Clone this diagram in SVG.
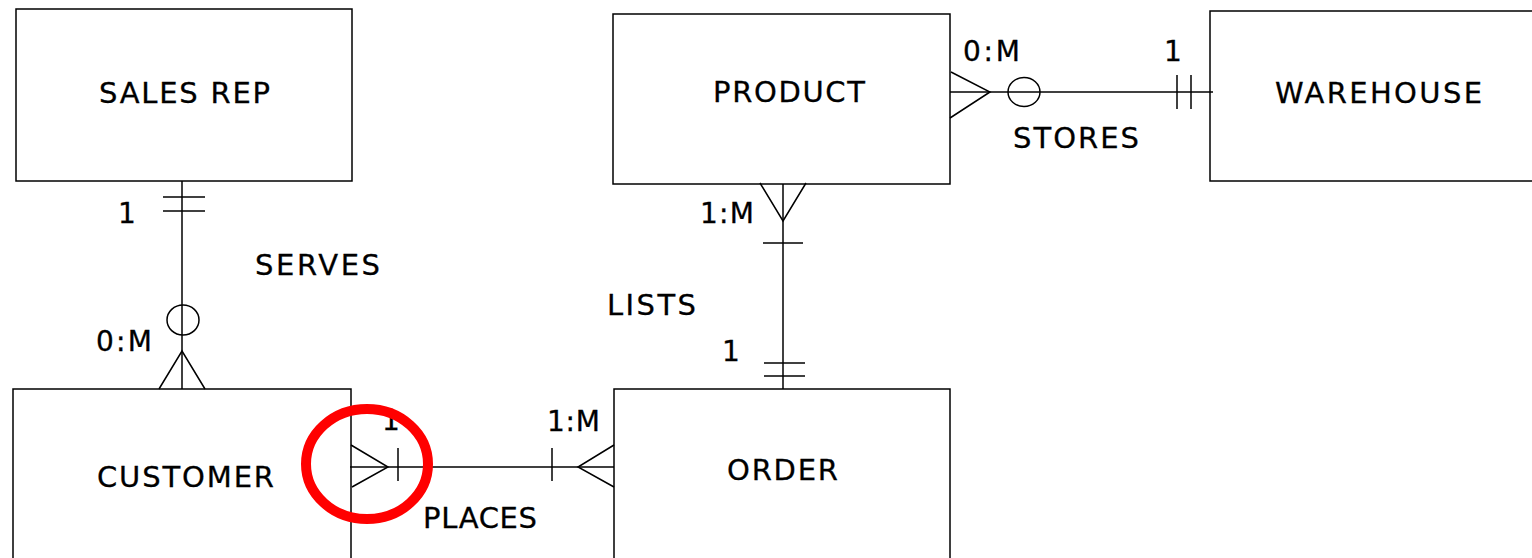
<svg xmlns="http://www.w3.org/2000/svg" width="1532" height="558" viewBox="0 0 1532 558">
<style>
.box{fill:#fff;stroke:#000;stroke-width:1.5}
.ln{fill:none;stroke:#000;stroke-width:1.5}
.t{font-family:"DejaVu Sans",Verdana,sans-serif;font-size:29px;fill:#000;stroke:#000;stroke-width:0.3}
.l{font-family:"DejaVu Sans",Verdana,sans-serif;font-size:28px;fill:#000;stroke:#000;stroke-width:0.3}
</style>
<rect width="1532" height="558" fill="#fff"/>
<g id="sales-rep"><rect class="box" x="16" y="9" width="336" height="172"/><text class="t" x="99" y="103" textLength="171" lengthAdjust="spacing">SALES REP</text></g>
<g id="product"><rect class="box" x="613" y="14" width="337" height="170"/><text class="t" x="713" y="102" textLength="152" lengthAdjust="spacing">PRODUCT</text></g>
<g id="warehouse"><rect class="box" x="1210" y="11" width="340" height="170"/><text class="t" x="1275" y="103" textLength="207" lengthAdjust="spacing">WAREHOUSE</text></g>
<g id="customer"><rect class="box" x="13" y="389" width="338" height="190"/><text class="t" x="97" y="487" textLength="177" lengthAdjust="spacing">CUSTOMER</text></g>
<g id="order"><rect class="box" x="614" y="389" width="336" height="190"/><text class="t" x="727" y="480" textLength="111" lengthAdjust="spacing">ORDER</text></g>
<g id="connectors">
<g id="serves">
<line class="ln" x1="182" y1="181" x2="182" y2="389"/>
<line class="ln" x1="163" y1="197" x2="205" y2="197"/>
<line class="ln" x1="163" y1="211" x2="205" y2="211"/>
<ellipse class="ln" cx="183" cy="320" rx="16" ry="15"/>
<polyline class="ln" points="159,389 182,351 205,389"/>
<text class="l" x="118" y="223">1</text>
<text class="l" x="96" y="351" textLength="56" lengthAdjust="spacing">0:M</text>
<text class="t" x="255" y="275" textLength="125" lengthAdjust="spacing">SERVES</text>
</g>
<g id="places">
<line class="ln" x1="350" y1="467" x2="614" y2="467"/>
<polyline class="ln" points="351,445 388,467 352,487"/>
<line class="ln" x1="398" y1="448" x2="398" y2="481"/>
<line class="ln" x1="552" y1="448" x2="552" y2="481"/>
<polyline class="ln" points="614,445 578,467 614,487"/>
<text class="l" x="382" y="430">1</text>
<text class="l" x="547" y="431" textLength="53" lengthAdjust="spacing">1:M</text>
<text class="t" x="423" y="528" textLength="114" lengthAdjust="spacing">PLACES</text>
</g>
<g id="lists">
<line class="ln" x1="783" y1="184" x2="783" y2="389"/>
<polyline class="ln" points="760,183 783,221 806,183"/>
<line class="ln" x1="763" y1="243" x2="803" y2="243"/>
<line class="ln" x1="764" y1="363" x2="805" y2="363"/>
<line class="ln" x1="764" y1="376" x2="805" y2="376"/>
<text class="l" x="700" y="223" textLength="54" lengthAdjust="spacing">1:M</text>
<text class="l" x="722" y="361">1</text>
<text class="t" x="607" y="315" textLength="89" lengthAdjust="spacing">LISTS</text>
</g>
<g id="stores">
<line class="ln" x1="950" y1="92" x2="1213" y2="92"/>
<polyline class="ln" points="951,72 990,92 950,118"/>
<ellipse class="ln" cx="1024" cy="92" rx="16" ry="14.5"/>
<line class="ln" x1="1177" y1="75" x2="1177" y2="109"/>
<line class="ln" x1="1191" y1="75" x2="1191" y2="109"/>
<text class="l" x="963" y="61" textLength="57" lengthAdjust="spacing">0:M</text>
<text class="l" x="1164" y="61">1</text>
<text class="t" x="1013" y="148" textLength="126" lengthAdjust="spacing">STORES</text>
</g>
</g>
<ellipse id="highlight" cx="367" cy="464" rx="61" ry="55" fill="none" stroke="#f00" stroke-width="10"/>
</svg>
